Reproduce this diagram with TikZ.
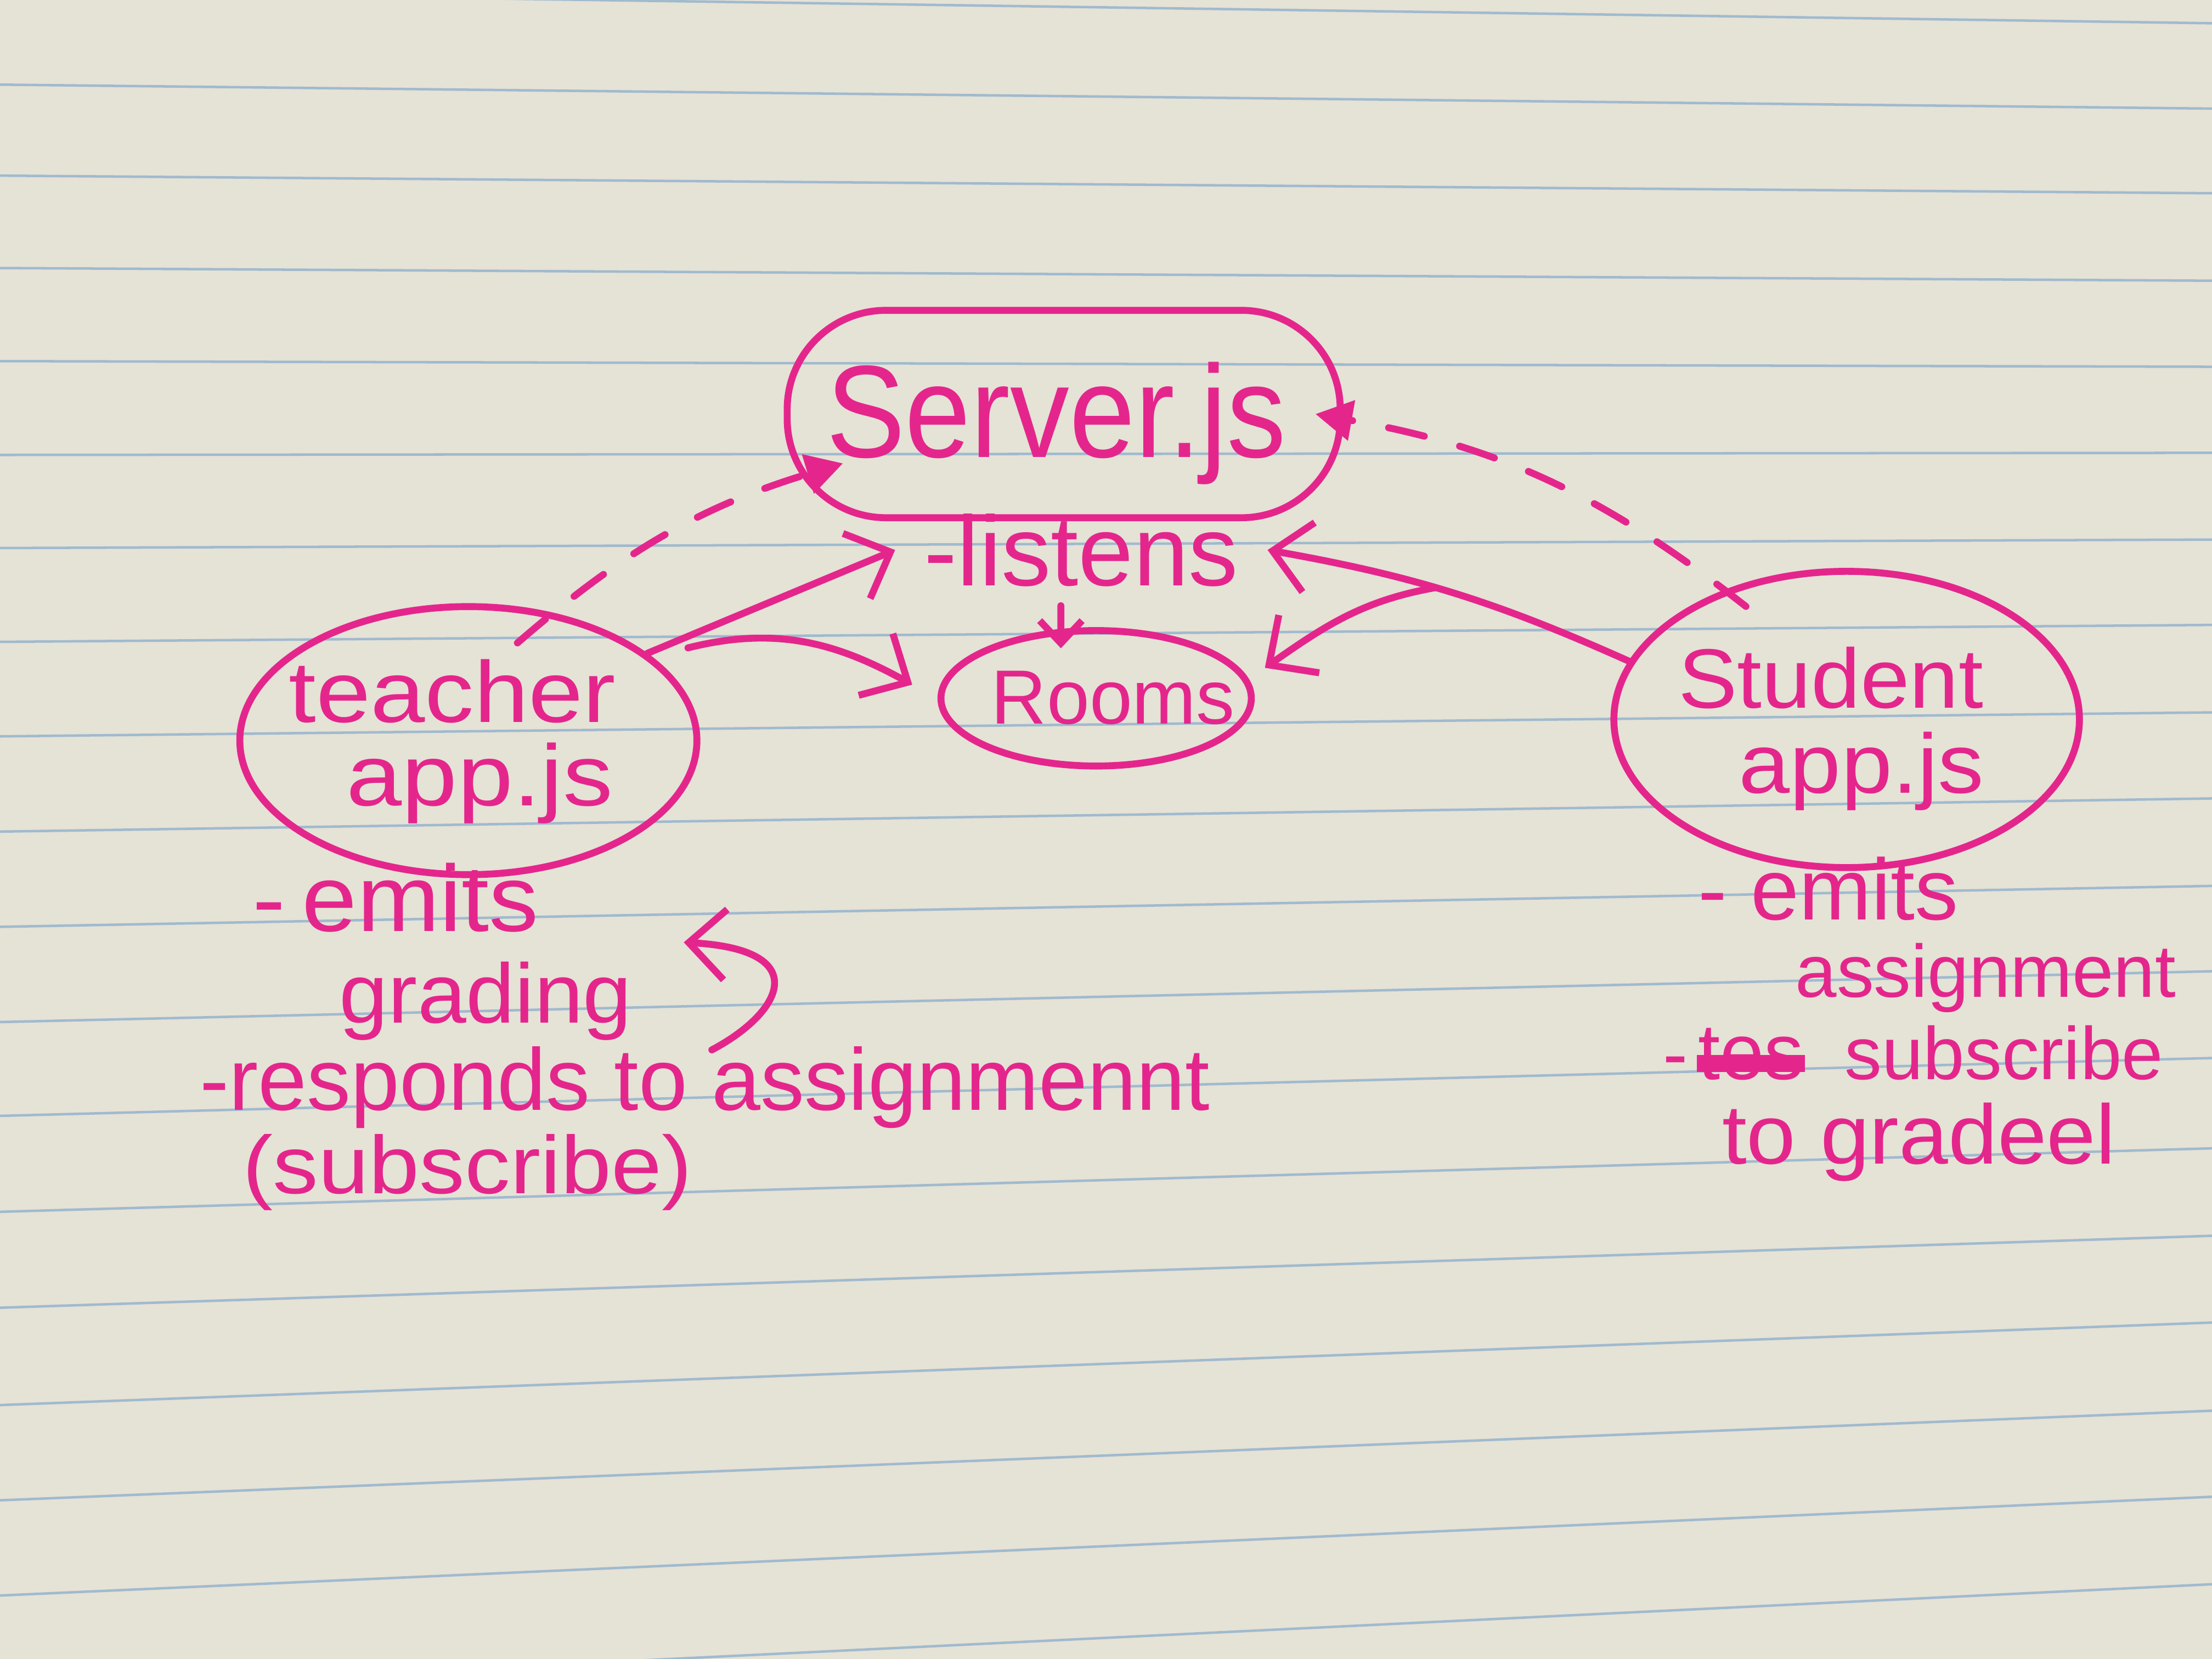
\documentclass[tikz,border=0pt]{standalone}
\usepackage{graphicx}
\usepackage{fontspec}
\setmainfont{Liberation Sans}
\usetikzlibrary{arrows.meta,shapes.geometric}
\definecolor{ink}{RGB}{228,38,140}
\definecolor{paper}{RGB}{229,226,214}
\definecolor{rulecol}{RGB}{160,186,206}
\newcommand\myfs[1]{\fontsize{#1}{#1}\selectfont}
\newcommand\hx[2]{\scalebox{#1}[1]{#2}}
\begin{document}
\begin{tikzpicture}[
  inkline/.style={draw=ink, line width=1.4pt},
  oval/.style={ellipse, inkline, inner sep=0pt},
  txt/.style={text=ink, inner sep=0pt, anchor=base west},
  barb/.style={inkline, line cap=round, -{Straight Barb[length=2.6mm,width=5mm]}},
  smallbarb/.style={inkline, line cap=round, -{Straight Barb[length=1.6mm,width=3mm]}},
  dasharrow/.style={inkline, line cap=round, dash pattern=on 2.6mm off 2.6mm, -{Triangle[length=2.6mm,width=2.8mm]}},
  paperrule/.style={draw=rulecol, line width=0.5pt}
]
\useasboundingbox (0,0) rectangle (15.68,-11.76);
\fill[paper] (0,0) rectangle (15.68,-11.76);
\begin{scope}
  \clip (0,0) rectangle (15.68,-11.76);
  \draw[paperrule] (0,0.06) -- (15.68,-0.165);
  \foreach \l/\r in {0.60/0.77,1.245/1.37,1.90/1.99,2.56/2.60,3.225/3.21,3.885/3.825,4.55/4.43,5.22/5.05,5.895/5.66,6.57/6.28,7.245/6.885,7.91/7.50,8.59/8.14,9.27/8.76,9.96/9.375,10.635/10.00,11.31/10.61,11.99/11.23}
    {\draw[paperrule] (0,-\l) -- (15.68,-\r);}
\end{scope}

% main nodes
\node[draw=ink, line width=1.4pt, rounded corners=7mm, minimum width=3.92cm, minimum height=1.47cm, inner sep=0pt] (server) at (7.54,-2.935) {};
\node[txt, font=\myfs{26.5}] (servertxt) at (5.85,-3.24) {\hx{0.9}{Server.js}};
\node[text=ink, inner sep=2mm, anchor=base, font=\myfs{20}] (listens) at (7.665,-4.15) {-listens};
\node[oval, minimum width=2.2cm, minimum height=0.96cm] (rooms) at (7.77,-4.95) {};
\node[txt, font=\myfs{15.5}] (roomstxt) at (7.02,-5.13) {Rooms};
\node[oval, minimum width=3.24cm, minimum height=1.90cm] (teacher) at (3.32,-5.25) {};
\node[txt, font=\myfs{17.5}] (teacherA) at (2.04,-5.12) {\hx{1.13}{teacher}};
\node[txt, font=\myfs{17.5}] (teacherB) at (2.45,-5.71) {\hx{1.15}{app.js}};
\node[oval, minimum width=3.30cm, minimum height=2.10cm] (student) at (13.09,-5.10) {};
\node[txt, font=\myfs{17}] (studentA) at (11.89,-5.02) {\hx{1.05}{Student}};
\node[txt, font=\myfs{17}] (studentB) at (12.32,-5.62) {\hx{1.09}{app.js}};

% teacher notes
\node[txt, font=\myfs{19}] (tn1) at (1.785,-6.60) {\hx{1.05}{-\,emits}};
\node[txt, font=\myfs{17}] (tn2) at (2.40,-7.25) {\hx{1.04}{grading}};
\node[txt, font=\myfs{17.7}] (tn3) at (1.41,-7.87) {-responds to assignmennt};
\node[txt, font=\myfs{16.5}] (tn4) at (1.715,-8.46) {\hx{1.11}{(subscribe)}};

% student notes
\node[txt, font=\myfs{17.5}] (sn1) at (12.03,-6.52) {- emits};
\node[txt, font=\myfs{15}] (sn2) at (12.72,-7.07) {assignment};
\node[txt, font=\myfs{15}] (sn3a) at (11.78,-7.65) {-};
\node[txt, font=\myfs{16}] (sn3b) at (12.03,-7.65) {tes};
\node[txt, font=\myfs{15}] (sn3c) at (13.07,-7.65) {subscribe};
\node[txt, font=\myfs{17}] (sn4) at (12.20,-8.25) {\hx{1.05}{to gradeel}};
\draw[ink, line width=1.2mm] ([yshift=1.1mm]sn3b.base west) -- ([yshift=1.1mm]sn3b.base east);

% connectors
\draw[dasharrow] ([shift={(0.09,-0.27)}]teacher.75) to[bend left=12] ([shift={(0.42,0.41)}]server.south west);
\draw[dasharrow] ([shift={(0.08,-0.145)}]student.130) to[bend right=14] ([xshift=-0.2cm]server.east);
\draw[barb] (teacher.26) -- (listens.west);
\draw[barb] ([shift={(0.22,0.09)}]teacher.23) to[out=14,in=151] ([xshift=-0.2cm]rooms.175);
\draw[smallbarb] ([shift={(-0.145,0.07)}]listens.south) -- ([shift={(-0.25,-0.15)}]rooms.north);
\draw[barb] (student.165) to[bend right=7] coordinate[pos=0.55] (branch) (listens.east);
\draw[barb] (branch) to[out=190,in=35] ([xshift=0.18cm]rooms.12);
\draw[barb] ([shift={(0.05,-0.03)}]tn3.north) .. controls +(0.51,0.27) and +(0.92,-0.05) .. ([shift={(0.36,0.13)}]tn2.north east);
\end{tikzpicture}
\end{document}
